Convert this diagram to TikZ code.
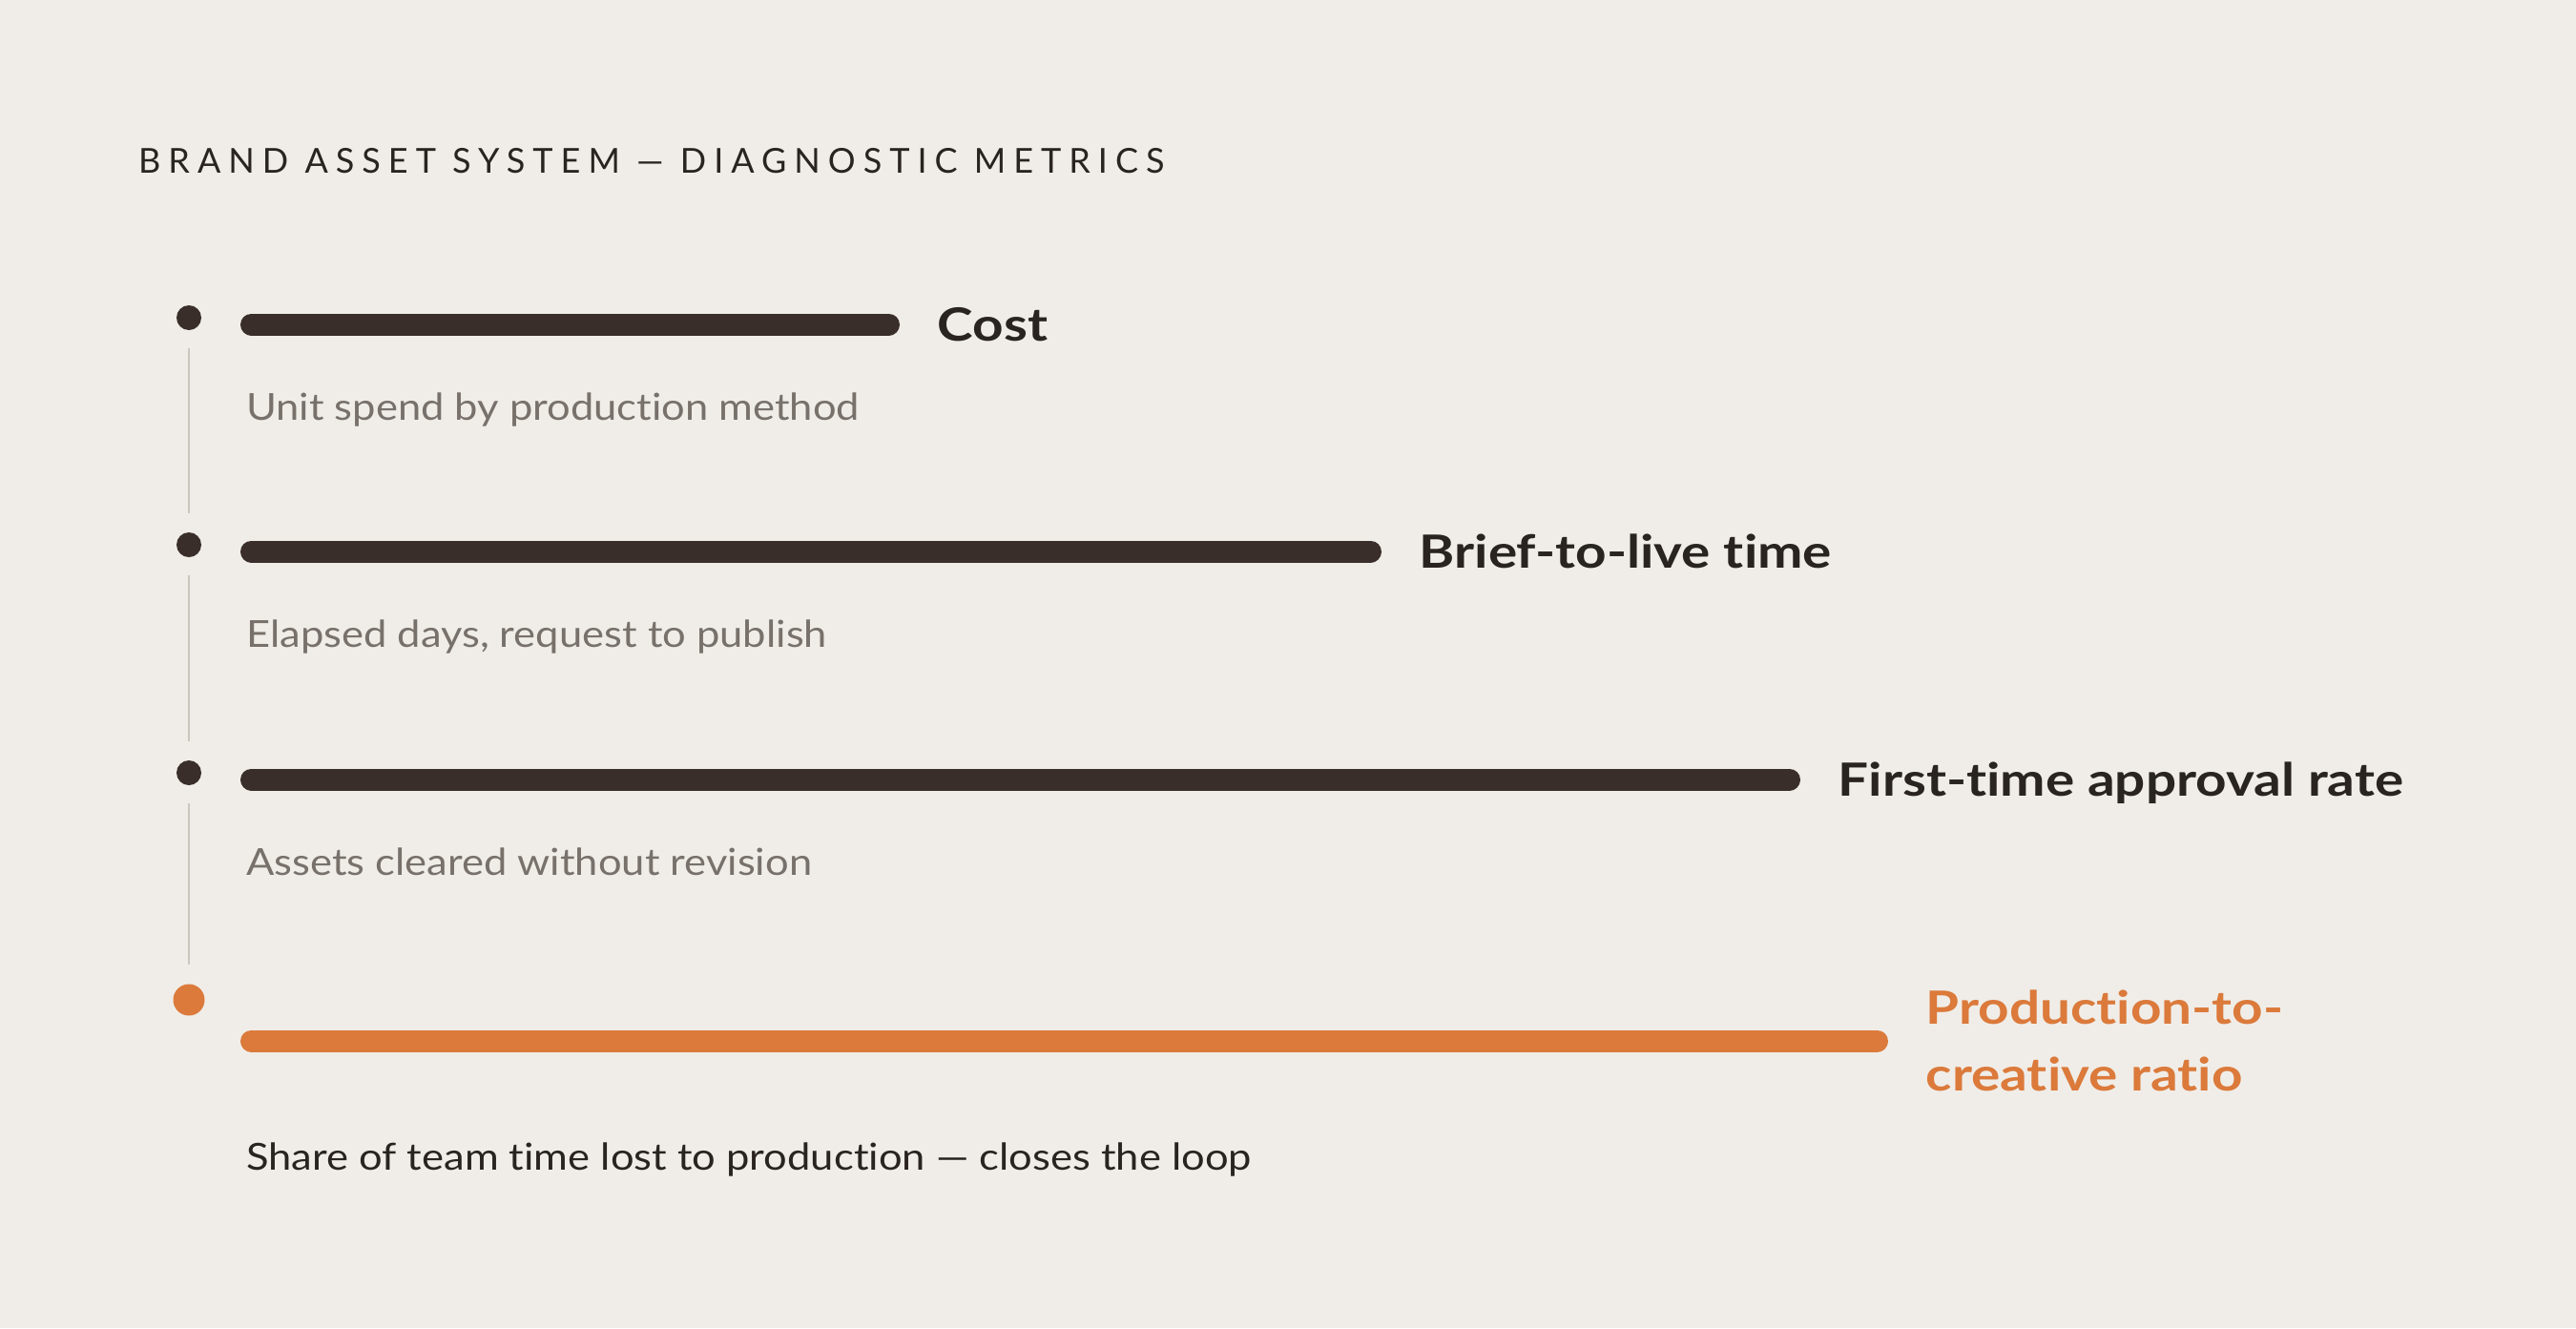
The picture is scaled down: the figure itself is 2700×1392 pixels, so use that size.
\documentclass[tikz,border=0pt]{standalone}
\usepackage{fontspec}
\setmainfont{Lato}[Ligatures={TeX,NoCommon},FakeStretch=1.115]
\newfontfamily\metricfont{Lato}[Ligatures={TeX,NoCommon},FakeStretch=1.18]
\newfontfamily\titlefont{Lato}[LetterSpace=22.2]
\usetikzlibrary{positioning}
\definecolor{paper}{HTML}{F0EDE8}
\definecolor{ink}{HTML}{3A2E2A}
\definecolor{headink}{HTML}{2A2420}
\definecolor{muted}{HTML}{78716B}
\definecolor{railgray}{HTML}{CCC6BE}
\definecolor{accent}{HTML}{DB7A3B}
\tikzset{dot/.style={circle,fill=ink,inner sep=0pt,minimum size=26pt},
	 hotdot/.style={dot,fill=accent,minimum size=33pt},
	 bar/.style={draw=ink,line width=23pt,line cap=round},
	 rail/.style={draw=railgray,line width=2pt,shorten <=19pt,shorten >=20pt},
	 metric/.style={font=\metricfont\bfseries\fontsize{48}{70}\selectfont,text=headink,inner sep=0pt,text height=35pt,text depth=0pt},
	 note/.style={font=\fontsize{39}{46}\selectfont,text=muted,inner sep=0pt,anchor=base west},
	 node distance = 51pt
	 }

\begin{document}
\begin{tikzpicture}[x=1pt,y=-1pt] % metrics ladder
	\fill[paper] (0,0) rectangle (2700,1392);
	\useasboundingbox (0,0) rectangle (2700,1392);
	\node[anchor=base west,inner sep=0pt,text=headink,font=\titlefont\fontsize{36}{40}\selectfont] (title) at (145,181) {BRAND ASSET SYSTEM — DIAGNOSTIC METRICS};
	\node[dot] (d1) at (198,333) {};
	\node[dot] (d2) at (198,571) {};
	\node[dot] (d3) at (198,810) {};
	\node[hotdot] (d4) at (198,1048) {};
	\draw[rail] (d1) to (d2); \draw[rail] (d2) to (d3); \draw[rail] (d3) to (d4);
	\coordinate (s1) at (263.5,340); \coordinate (e1) at (931.5,340);
	\coordinate (s2) at (263.5,578); \coordinate (e2) at (1436.5,578);
	\coordinate (s3) at (263.5,817); \coordinate (e3) at (1875.5,817);
	\coordinate (s4) at (263.5,1091); \coordinate (e4) at (1967.5,1091);
	\draw[bar] (s1) to (e1); \draw[bar] (s2) to (e2);
	\draw[bar] (s3) to (e3); \draw[bar,draw=accent] (s4) to (e4);
	\node[metric] (m1) [right=of e1] {Cost};
	\node[metric] (m2) [right=of e2] {Brief-to-live time};
	\node[metric] (m3) [right=of e3] {First-time approval rate};
	\node[metric,text=accent,text height=,text depth=,align=left] (m4) [right=of e4] {Production-to-\\creative ratio};
	\node[note] (n1) at (258,440) {Unit spend by production method};
	\node[note] (n2) at (258,678) {Elapsed days, request to publish};
	\node[note] (n3) at (258,917) {Assets cleared without revision};
	\node[note,text=headink] (n4) at (258,1226) {Share of team time lost to production — closes the loop};
\end{tikzpicture}
\end{document}
